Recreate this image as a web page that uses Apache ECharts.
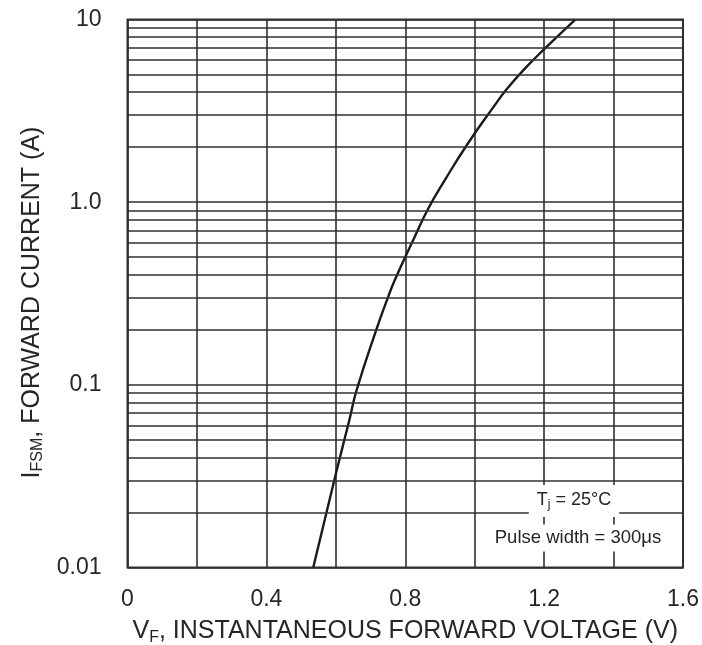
<!DOCTYPE html>
<html lang="en">
<head>
    <meta charset="UTF-8">
    <script src="https://cdn.jsdelivr.net/npm/echarts@6/dist/echarts.min.js"></script>
    <title>Forward current vs forward voltage</title>
</head>
<body style="margin:0;background:#fff;">
    <div id="main" style="width: 702px;height:645px;"></div>
    <script type="text/javascript">
        // curve (V, A)
        const voltage = [0.535, 0.598, 0.639, 0.660, 0.718, 0.751, 0.770, 0.823, 0.866, 0.914, 0.977, 1.058, 1.092, 1.150, 1.198, 1.289];
        const current = [0.010, 0.0314, 0.0642, 0.0937, 0.204, 0.304, 0.375, 0.621, 0.92, 1.32, 2.05, 3.40, 4.15, 5.52, 6.81, 9.94];
        // minor log grid lines
        const minorLines = [0.02, 0.03, 0.04, 0.05, 0.06, 0.07, 0.08, 0.09,
                            0.2, 0.3, 0.4, 0.5, 0.6, 0.7, 0.8, 0.9,
                            2, 3, 4, 5, 6, 7, 8, 9];
        const yTickLabels = { '0.01': '0.01', '0.1': '0.1', '1': '1.0', '10': '10' };

        const font = 'Arial, "Liberation Sans", sans-serif';
        const ink = '#262626';
        const gridInk = '#303030';

        let myChart = echarts.init(document.getElementById('main'));

        const options = {
            animation: false,
            grid: {
                left: 127.5, right: 19, top: 19.5, bottom: 77.5,
                containLabel: false,
                outerBoundsMode: 'none',
                show: true, borderColor: gridInk, borderWidth: 2
            },
            xAxis: {
                type: 'value',
                min: 0, max: 1.6, interval: 0.2,
                axisLine: { show: false },
                axisTick: { show: false },
                splitLine: { show: true, lineStyle: { color: gridInk, width: 1.6 } },
                axisLabel: {
                    margin: 21, fontSize: 23, color: ink, fontFamily: font,
                    formatter: (v) => {
                        const k = Math.round(v * 10);
                        if (k % 4 !== 0) return '';
                        return k === 0 ? '0' : (k / 10).toFixed(1);
                    }
                },
                name: '{n|V}{s|F}{n|, INSTANTANEOUS FORWARD VOLTAGE (V)}',
                nameLocation: 'middle',
                nameGap: 50,
                nameTextStyle: {
                    rich: {
                        n: { fontSize: 25, color: ink, fontFamily: font, lineHeight: 28 },
                        s: { fontSize: 16, color: ink, fontFamily: font, lineHeight: 10, verticalAlign: 'bottom' }
                    }
                }
            },
            yAxis: {
                type: 'log',
                logBase: 10,
                min: 0.01, max: 10,
                axisLine: { show: false },
                axisTick: { show: false },
                splitLine: { show: true, lineStyle: { color: gridInk, width: 1.6 } },
                axisLabel: {
                    margin: 26, fontSize: 23, color: ink, fontFamily: font,
                    formatter: (v) => {
                        const key = String(parseFloat(v.toPrecision(3)));
                        return yTickLabels[key] || '';
                    }
                },
                name: '{n|I}{s|FSM}{n|, FORWARD CURRENT (A)}',
                nameLocation: 'middle',
                nameGap: 81,
                nameTextStyle: {
                    padding: [0, 18, 0, 0],
                    rich: {
                        n: { fontSize: 25, color: ink, fontFamily: font, lineHeight: 28 },
                        s: { fontSize: 16, color: ink, fontFamily: font, lineHeight: 10, verticalAlign: 'bottom' }
                    }
                }
            },
            series: [{
                type: 'line',
                data: voltage.map((v, i) => [v, current[i]]),
                smooth: 0.5,
                showSymbol: false,
                lineStyle: { color: '#1a1a1a', width: 2.4 },
                markLine: {
                    silent: true,
                    symbol: 'none',
                    label: { show: false },
                    lineStyle: { type: 'solid', color: gridInk, width: 1.6 },
                    data: minorLines.map((y) => ({ yAxis: y }))
                }
            }],
            graphic: [{
                type: 'text',
                x: 574, y: 501,
                z: 100,
                style: {
                    text: '{n|T}{s|j}{n| = 25°C}',
                    align: 'center', verticalAlign: 'middle',
                    backgroundColor: '#fff',
                    padding: [4, 8, 6, 8],
                    rich: {
                        n: { fontSize: 18, fill: ink, fontFamily: font, lineHeight: 22 },
                        s: { fontSize: 12, fill: ink, fontFamily: font, lineHeight: 8, verticalAlign: 'bottom' }
                    }
                }
            }, {
                type: 'text',
                x: 578, y: 538,
                z: 100,
                style: {
                    text: 'Pulse width = 300μs',
                    align: 'center', verticalAlign: 'middle',
                    fontSize: 18.5, fill: ink, fontFamily: font,
                    backgroundColor: '#fff',
                    padding: [4, 2, 4, 2]
                }
            }]
        };
        myChart.setOption(options);
    </script>
</body>
</html>
